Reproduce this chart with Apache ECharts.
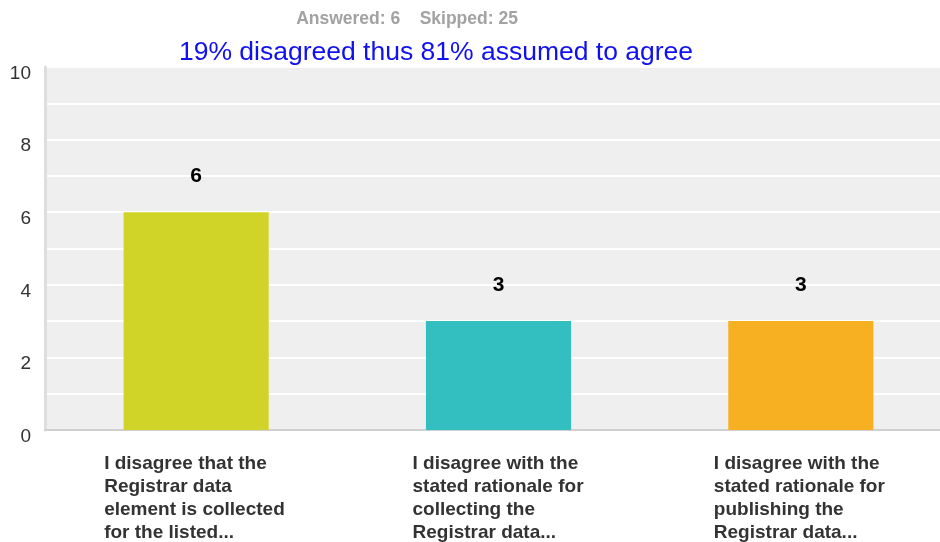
<!DOCTYPE html>
<html><head><meta charset="utf-8">
<script src="https://cdn.jsdelivr.net/npm/echarts@6/dist/echarts.min.js"></script>
<style>html,body{margin:0;padding:0;background:#fff}#c{width:940px;height:542px}</style>
</head><body><div id="c"></div>
<script>
var categories = [
  "I disagree that the\nRegistrar data\nelement is collected\nfor the listed...",
  "I disagree with the\nstated rationale for\ncollecting the\nRegistrar data...",
  "I disagree with the\nstated rationale for\npublishing the\nRegistrar data..."
];
var values = [6, 3, 3];
var barColors = ["#d1d428", "#33bec0", "#f7b021"];
var yTicks = [0, 2, 4, 6, 8, 10];

var FONT = 'Liberation Sans, Arial, sans-serif';
var labelStyle = function (w) {
  return {width: w, align: 'left', fontSize: 19, fontWeight: 'bold', color: '#333333',
          lineHeight: 23, fontFamily: FONT};
};
var chart = echarts.init(document.getElementById('c'), null, {renderer: 'canvas'});
chart.setOption({
  backgroundColor: '#ffffff',
  animation: false,
  title: [
    {text: 'Answered: 6    Skipped: 25', left: 402, top: 5, textAlign: 'center',
     textStyle: {color: '#a2a2a2', fontSize: 17.5, fontWeight: 'bold', fontFamily: FONT}},
    {text: '19% disagreed thus 81% assumed to agree', left: 431, top: 34, textAlign: 'center',
     textStyle: {color: '#1010f0', fontSize: 26.5, fontWeight: 'normal', fontFamily: FONT}}
  ],
  grid: {left: 45, top: 67, height: 363, width: 907, containLabel: false, outerBoundsMode: 'none',
         show: true, backgroundColor: '#efefef', borderWidth: 0},
  xAxis: {
    type: 'category', data: categories,
    axisLine: {show: true, lineStyle: {color: '#d0d0d0', width: 2}},
    axisTick: {show: false},
    splitLine: {show: false},
    axisLabel: {
      interval: 0, margin: 22,
      formatter: function (v, i) {
        var k = ['a', 'b', 'c'][i];
        return v.split('\n').map(function (s) { return '{' + k + '|' + s + '}'; }).join('\n');
      },
      rich: {a: labelStyle(184), b: labelStyle(172), c: labelStyle(174)}
    }
  },
  yAxis: {
    type: 'value', min: 0, max: 10, interval: 1,
    axisLine: {show: true, lineStyle: {color: '#dedede', width: 3}},
    axisTick: {show: false},
    splitLine: {show: true, lineStyle: {color: '#ffffff', width: 2}},
    axisLabel: {
      margin: 14, color: '#333333', fontSize: 19, fontFamily: FONT,
      verticalAlign: 'top', lineHeight: 13,
      formatter: function (v) { return yTicks.indexOf(v) >= 0 ? String(v) : ''; }
    }
  },
  series: [{
    type: 'bar', barWidth: '48%',
    data: values.map(function (v, i) { return {value: v, itemStyle: {color: barColors[i]}}; }),
    label: {show: true, position: 'top', distance: 25, color: '#000000', fontSize: 21, fontWeight: 'bold',
            fontFamily: FONT}
  }]
});
</script></body></html>
